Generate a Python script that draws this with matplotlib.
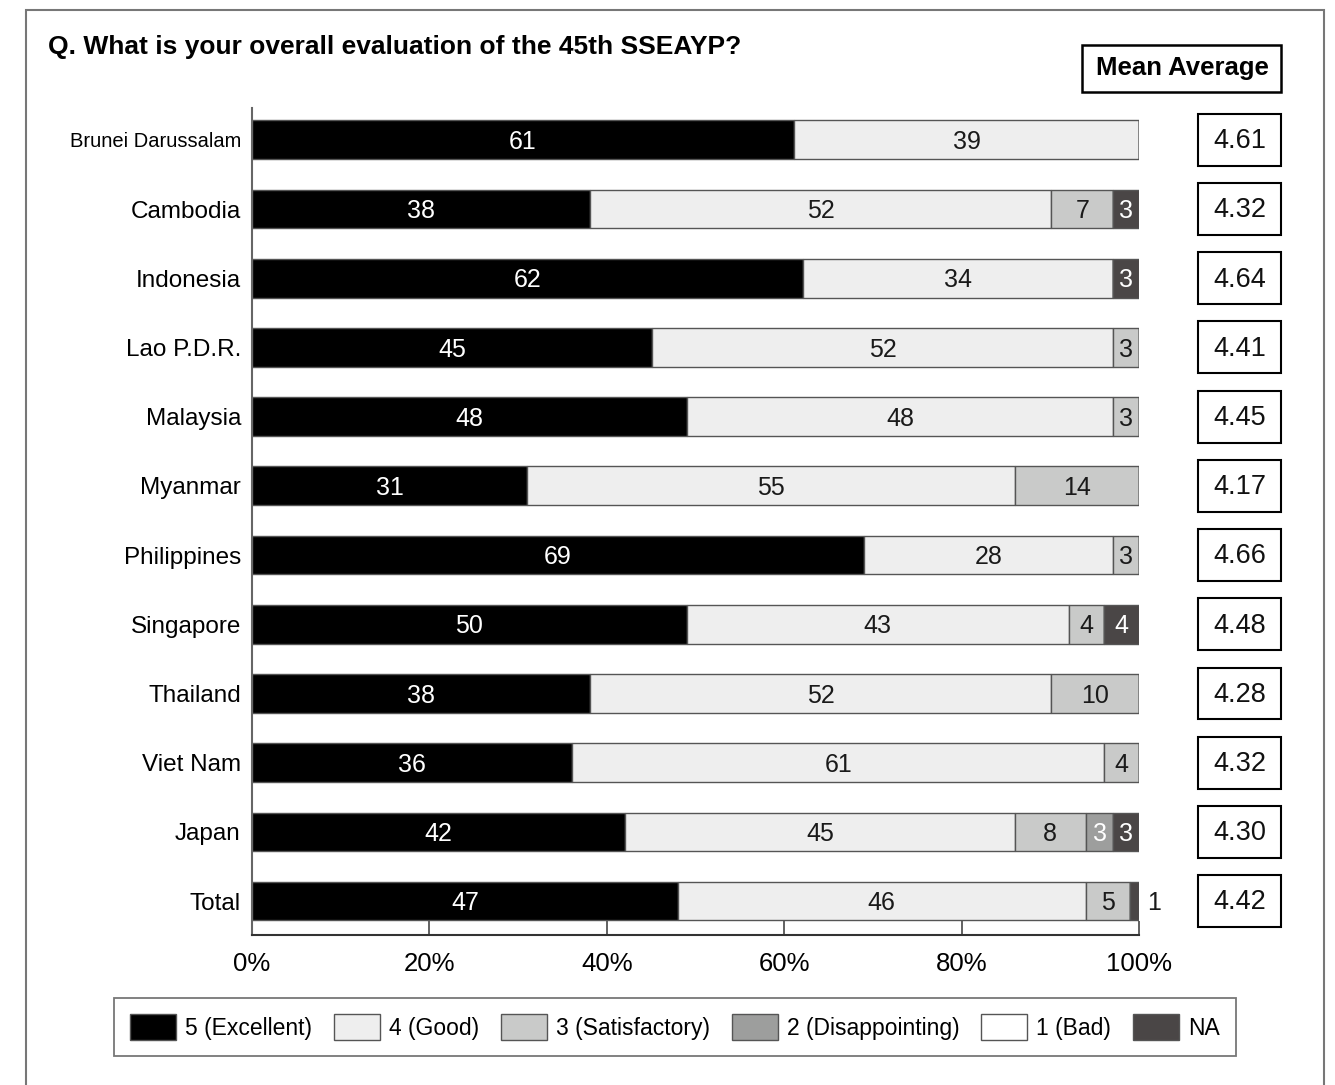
import matplotlib.pyplot as plt
import matplotlib.patches as patches
from matplotlib.transforms import blended_transform_factory

countries = ["Brunei Darussalam", "Cambodia", "Indonesia", "Lao P.D.R.", "Malaysia",
             "Myanmar", "Philippines", "Singapore", "Thailand", "Viet Nam", "Japan", "Total"]

# segment widths (%) as drawn
excellent = [61.1, 38.1, 62.1, 45.1, 49.0, 31.0, 69.0, 49.0, 38.1, 36.1, 42.1, 48.0]
good = [38.9, 52.0, 35.0, 52.0, 48.1, 55.0, 28.1, 43.1, 52.0, 60.0, 43.9, 46.0]
satisfactory = [0, 7.0, 0, 2.9, 2.9, 14.0, 2.9, 4.0, 9.9, 3.9, 8.0, 5.0]
disappointing = [0, 0, 0, 0, 0, 0, 0, 0, 0, 0, 3.1, 0]
bad = [0, 0, 0, 0, 0, 0, 0, 0, 0, 0, 0, 0]
na = [0, 2.9, 2.9, 0, 0, 0, 0, 3.9, 0, 0, 2.9, 1.0]

# printed labels
lab_excellent = ["61", "38", "62", "45", "48", "31", "69", "50", "38", "36", "42", "47"]
lab_good = ["39", "52", "34", "52", "48", "55", "28", "43", "52", "61", "45", "46"]
lab_satisfactory = ["", "7", "", "3", "3", "14", "3", "4", "10", "4", "8", "5"]
lab_disappointing = ["", "", "", "", "", "", "", "", "", "", "3", ""]
lab_bad = ["", "", "", "", "", "", "", "", "", "", "", ""]
lab_na = ["", "3", "3", "", "", "", "", "4", "", "", "3", "1"]

means = ["4.61", "4.32", "4.64", "4.41", "4.45", "4.17", "4.66", "4.48", "4.28", "4.32", "4.30", "4.42"]

legend_names = ["5 (Excellent)", "4 (Good)", "3 (Satisfactory)", "2 (Disappointing)", "1 (Bad)", "NA"]

plt.rcParams['font.family'] = ['Liberation Sans', 'DejaVu Sans']

W, H = 1335, 1085
fig = plt.figure(figsize=(W / 100, H / 100), dpi=100)

def fx(px):
    return px / W

def fy(py):
    return 1 - py / H

# outer frame
fig.add_artist(patches.Rectangle((fx(26), fy(1100)), fx(1324) - fx(26), fy(10) - fy(1100),
                                 transform=fig.transFigure, fill=False,
                                 edgecolor='#777777', linewidth=1.5))

ax = fig.add_axes([fx(252), fy(935), fx(1139) - fx(252), fy(108) - fy(935)])

series = [excellent, good, satisfactory, disappointing, bad, na]
labels = [lab_excellent, lab_good, lab_satisfactory, lab_disappointing, lab_bad, lab_na]
colors = ['#000000', '#eeeeee', '#c9cac9', '#9d9e9d', '#ffffff', '#4a4646']
text_colors = ['white', '#1a1a1a', '#1a1a1a', 'white', '#1a1a1a', 'white']

ypos = list(range(len(countries)))
left = [0.0] * len(countries)
for vals, labs, col, tcol in zip(series, labels, colors, text_colors):
    ax.barh(ypos, vals, left=left, height=0.56, color=col,
            edgecolor='#555555', linewidth=1.0, zorder=2)
    for i, (v, lab) in enumerate(zip(vals, labs)):
        if not lab:
            continue
        if v < 2:
            ax.text(left[i] + v + 1.7, i + 0.03, lab, ha='center', va='center',
                    fontsize=18, color='#1a1a1a', zorder=3)
        else:
            ax.text(left[i] + v / 2, i + 0.03, lab, ha='center', va='center',
                    fontsize=18, color=tcol, zorder=3)
    left = [a + b for a, b in zip(left, vals)]

ax.set_xlim(0, 100)
ax.set_ylim(len(countries) - 1 + 0.49, -0.46)
ax.set_xticks([0, 20, 40, 60, 80, 100])
ax.set_xticklabels(["0%", "20%", "40%", "60%", "80%", "100%"], fontsize=18.5)
ax.set_yticks(ypos)
ax.set_yticklabels(countries, fontsize=17.5)
ax.tick_params(axis='x', direction='in', length=10, width=1.3, color='#555555', pad=12)
ax.tick_params(axis='y', length=0, pad=8)
for lbl in ax.get_yticklabels():
    if lbl.get_text() == "Brunei Darussalam":
        lbl.set_fontsize(14.5)
for s in ['top', 'right']:
    ax.spines[s].set_visible(False)
ax.spines['left'].set_color('#666666')
ax.spines['left'].set_linewidth(1.5)
ax.spines['bottom'].set_color('#333333')
ax.spines['bottom'].set_linewidth(1.5)

# mean average boxes
tr = blended_transform_factory(ax.transAxes, ax.transData)
bx0 = (1198 - 252) / 887
bw = 83 / 887
for i, m in enumerate(means):
    ax.add_patch(patches.Rectangle((bx0, i - 0.375), bw, 0.75, transform=tr,
                                   fill=False, edgecolor='black', linewidth=1.5,
                                   clip_on=False))
    ax.text(bx0 + bw / 2, i + 0.02, m, transform=tr, ha='center', va='center',
            fontsize=19.5, color='#111111')

# header texts
fig.text(fx(48), fy(47), "Q. What is your overall evaluation of the 45th SSEAYP?",
         fontsize=19, fontweight='bold', va='center', ha='left')
fig.add_artist(patches.Rectangle((fx(1082), fy(92)), fx(1281) - fx(1082), fy(45) - fy(92),
                                 transform=fig.transFigure, fill=False,
                                 edgecolor='black', linewidth=1.8))
fig.text(fx(1182), fy(68), "Mean Average", fontsize=18.5, fontweight='bold',
         va='center', ha='center')

# legend
handles = [patches.Patch(facecolor=c, edgecolor='#555555', linewidth=1.0) for c in colors]
leg = fig.legend(handles, legend_names, loc='center', bbox_to_anchor=(fx(675), fy(1027)),
                 ncol=6, fontsize=16.5, frameon=True, fancybox=False,
                 handlelength=2.0, handleheight=1.4, handletextpad=0.4,
                 columnspacing=0.95, borderpad=0.7)
leg.get_frame().set_edgecolor('#555555')
leg.get_frame().set_linewidth(1.3)

fig.savefig('out.png', dpi=100)
